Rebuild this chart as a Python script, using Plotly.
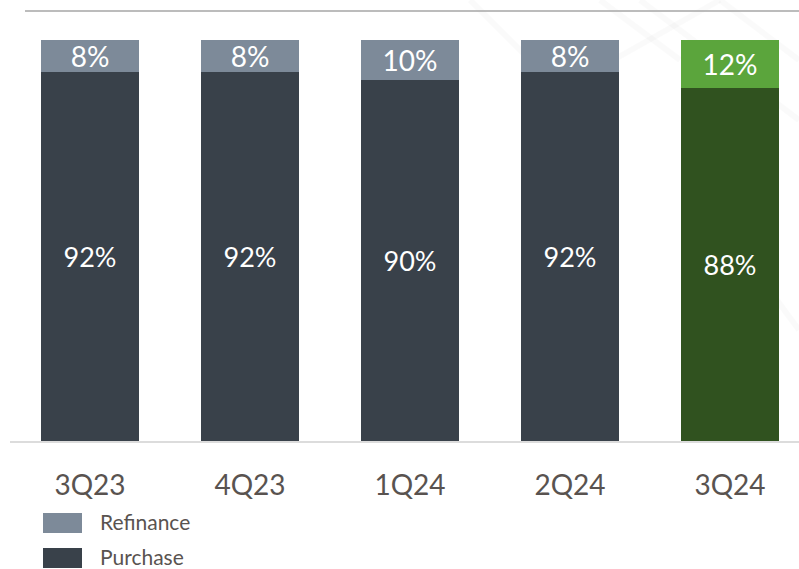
import plotly.graph_objects as go

# Loan mix by quarter (share of volume, %)
quarters = ["3Q23", "4Q23", "1Q24", "2Q24", "3Q24"]
purchase = [92, 92, 90, 92, 88]
refinance = [8, 8, 10, 8, 12]

series_names = ["Refinance", "Purchase"]

# Colours: historical quarters in slate, the latest quarter highlighted in green
purchase_colors = ["#39414A", "#39414A", "#39414A", "#39414A", "#30521F"]
refinance_colors = ["#7D8A99", "#7D8A99", "#7D8A99", "#7D8A99", "#5BA53C"]
legend_colors = ["#7D8A99", "#39414A"]

W, H = 799, 569
ML, MR, MT, MB = 10, 0, 11, 128
PW, PH = W - ML - MR, H - MT - MB
FONT = "Lato, 'Open Sans', sans-serif"
TEXT_GRAY = "#595350"


def px_x(x):
    return (x - ML) / PW


def px_y(y):
    return (H - MB - y) / PH


fig = go.Figure()
fig.add_trace(go.Bar(
    x=quarters, y=purchase, name=series_names[1],
    marker=dict(color=purchase_colors, line=dict(width=0)),
    text=[f"{v}%" for v in purchase], textposition="inside",
    insidetextanchor="middle", constraintext="none",
    textfont=dict(color="white", size=27, family=FONT),
    width=0.615, showlegend=False,
))
fig.add_trace(go.Bar(
    x=quarters, y=refinance, name=series_names[0],
    marker=dict(color=refinance_colors, line=dict(width=0)),
    text=[f"{v}%" for v in refinance], textposition="inside",
    insidetextanchor="middle", constraintext="none",
    textfont=dict(color="white", size=28, family=FONT),
    width=0.615, showlegend=False,
))

shapes = []
# faint decorative diagonals in the background
for (x0, y0, x1, y1) in [(470, 0, 560, 90), (560, 90, 720, 0), (640, 0, 799, 120),
                         (720, 0, 799, 60), (600, 0, 680, 60), (740, 250, 799, 330)]:
    shapes.append(dict(type="line", xref="paper", yref="paper",
                       x0=px_x(x0), y0=px_y(y0), x1=px_x(x1), y1=px_y(y1),
                       line=dict(color="rgba(0,0,0,0.02)", width=6), layer="below"))
# top rule
shapes.append(dict(type="line", xref="paper", yref="paper",
                   x0=px_x(25), x1=1, y0=px_y(11), y1=px_y(11),
                   line=dict(color="#A6A6A6", width=1.3)))

annotations = []
# legend swatches and labels
for i, (name, col) in enumerate(zip(series_names, legend_colors)):
    top = 513 + i * 35
    shapes.append(dict(type="rect", xref="paper", yref="paper",
                       x0=px_x(43), x1=px_x(82), y0=px_y(top + 20), y1=px_y(top),
                       fillcolor=col, line=dict(width=0)))
    annotations.append(dict(xref="paper", yref="paper", x=px_x(98), y=px_y(top + 8),
                            text=name, showarrow=False, xanchor="left", yanchor="middle",
                            font=dict(size=21, color=TEXT_GRAY, family=FONT)))

fig.update_layout(
    barmode="stack",
    width=W, height=H,
    margin=dict(l=ML, r=MR, t=MT, b=MB),
    paper_bgcolor="white", plot_bgcolor="rgba(0,0,0,0)",
    shapes=shapes, annotations=annotations,
    xaxis=dict(range=[-0.5, -0.5 + PW / 160], showgrid=False, zeroline=False,
               showline=True, linecolor="#DCDCDC", linewidth=1.5,
               ticks="", ticklabelstandoff=19,
               tickfont=dict(size=28, color=TEXT_GRAY, family=FONT)),
    yaxis=dict(range=[0, 100 * PH / 401], visible=False, fixedrange=True),
)

fig.write_html("out.html")
